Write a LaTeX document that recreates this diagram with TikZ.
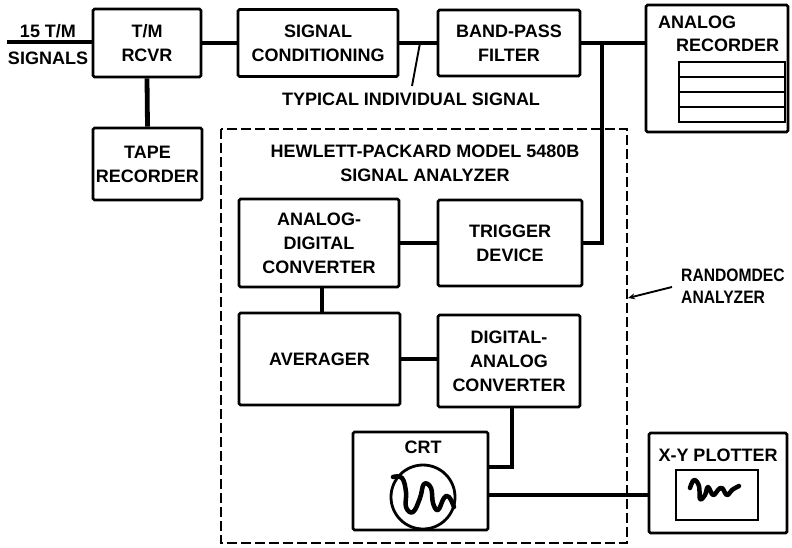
\documentclass[tikz,border=0pt]{standalone}
\usepackage{fontspec}
\usepackage{graphicx}
\setmainfont{Liberation Sans}
\usetikzlibrary{arrows.meta}
\begin{document}
\begin{tikzpicture}[x=1pt,y=-1pt,
  txt/.style={font=\bfseries\fontsize{18}{24}\selectfont, align=center, inner sep=0pt},
  blk/.style={draw, line width=2.8pt, rounded corners=1.5pt, txt},
  wire/.style={line width=4.8pt},
  thin/.style={line width=1.9pt},
  dashbox/.style={draw, line width=2.6pt, dash pattern=on 10pt off 4pt},
  squig/.style={line width=4.5pt, line cap=round, line join=round}]
\useasboundingbox (0,0) rectangle (792,547);
% boxes
\node[blk, minimum width=108pt, minimum height=68pt] (rcvr) at (147,43) {T/M\\RCVR};
\node[blk, minimum width=109pt, minimum height=72pt] (tape) at (147.5,164) {TAPE\\RECORDER};
\node[blk, minimum width=160pt, minimum height=67pt] (sc) at (318,43) {SIGNAL\\CONDITIONING};
\node[blk, minimum width=142pt, minimum height=66pt] (bpf) at (509,43) {BAND-PASS\\FILTER};
\node[blk, minimum width=142pt, minimum height=127pt] (ar) at (717,68.5) {};
\node[txt, anchor=west] (arl1) at (658,22) {ANALOG};
\node[txt, anchor=west] (arl2) at (676,45) {RECORDER};
\draw[line width=2.2pt] (679,62) rectangle (785,122);
\draw[line width=2pt] (679,77) -- (785,77) (679,92) -- (785,92) (679,107) -- (785,107);
% dashed analyzer box
\draw[dashbox] (221,129) rectangle (627,543);
\node[txt] (hp) at (425,163) {HEWLETT-PACKARD MODEL 5480B\\SIGNAL ANALYZER};
\node[blk, minimum width=160pt, minimum height=88pt] (adc) at (319,243) {ANALOG-\\DIGITAL\\CONVERTER};
\node[blk, minimum width=144pt, minimum height=86pt] (trig) at (510,243) {TRIGGER\\DEVICE};
\node[blk, minimum width=161pt, minimum height=92pt] (avg) at (319.5,359) {AVERAGER};
\node[blk, minimum width=142pt, minimum height=92pt] (dac) at (509,361) {DIGITAL-\\ANALOG\\CONVERTER};
\node[blk, minimum width=135pt, minimum height=98pt] (crt) at (420.5,481) {};
\node[txt] (crtl) at (423,447) {CRT};
\draw[line width=2.8pt] (423,497) circle (32pt);
\draw[squig] plot[smooth, tension=0.7] coordinates {(393,477) (402,478) (406,492) (406,507) (413,512) (420,498) (424,484) (431,488) (433,503) (438,510) (444,498) (449,497) (454,507)};
\node[blk, minimum width=138pt, minimum height=100pt] (xy) at (718,483) {};
\node[txt] (xyl) at (718,455) {X-Y PLOTTER};
\draw[line width=2.4pt] (676,470) rectangle (758,520);
\draw[squig] plot[smooth, tension=0.7] coordinates {(690,488) (694,480) (699,486) (700,499) (705,495) (708,487) (713,495) (718,490) (722,488) (727,495) (732,490) (739,486)};
% labels
\node[txt] (in1) at (48,31) {15 T/M};
\node[txt] (in2) at (48,58) {SIGNALS};
\node[txt] (typ) at (411,99) {TYPICAL INDIVIDUAL SIGNAL};
\node[txt, font=\bfseries\fontsize{18}{22}\selectfont, align=left, anchor=west] (rnd) at (681,286) {\scalebox{0.87}[1]{RANDOMDEC}\\\scalebox{0.87}[1]{ANALYZER}};
% connectors
\coordinate (inp) at (7,42);
\draw[wire] (inp) -- (inp -| rcvr.west);
\draw[wire] (rcvr.east) -- (sc.west);
\draw[wire] (rcvr.south) -- (tape.north);
\draw[wire] (sc.east) -- (bpf.east -| bpf.west);
\coordinate (j) at (602,43);
\draw[wire] (bpf.east) -- (j) -- (ar.west |- j);
\draw[wire] (j) |- (trig.east);
\draw[wire] (adc.east) -- (trig.west);
\coordinate (a1) at (322,0);
\draw[wire] (a1 |- adc.south) -- (a1 |- avg.north);
\draw[wire] (avg.east) -- (avg.east -| dac.west);
\coordinate (d1) at (512,467);
\draw[wire] (d1 |- dac.south) -- (d1) -- (d1 -| crt.east);
\coordinate (c1) at (488,495);
\draw[wire] (c1) -- (c1 -| xy.west);
\coordinate (t1) at (420,43);
\coordinate (t2) at (412,86);
\draw[thin] (t1) -- (t2);
\coordinate (r1) at (672,287);
\coordinate (r2) at (628,298);
\draw[thin, -{Stealth[length=7pt,width=6pt]}] (r1) -- (r2);
\end{tikzpicture}
\end{document}
